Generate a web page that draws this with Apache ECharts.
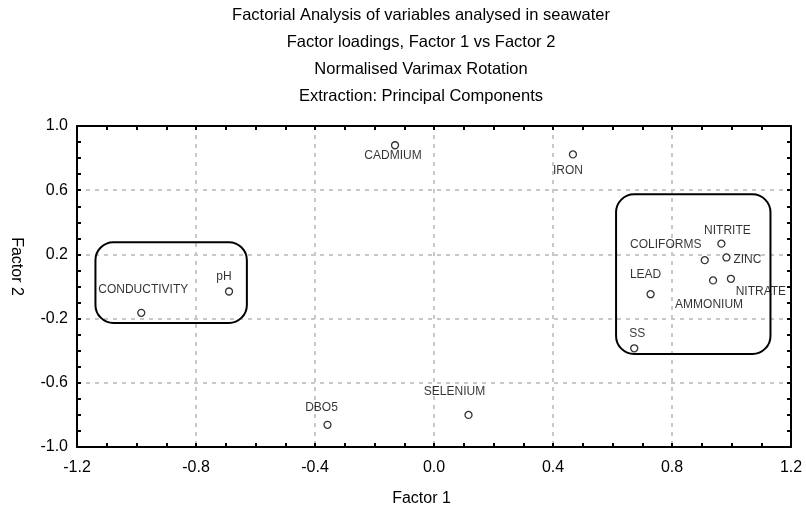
<!DOCTYPE html>
<html>
<head>
<meta charset="utf-8">
<script src="https://cdn.jsdelivr.net/npm/echarts@6/dist/echarts.min.js"></script>
<style>
  html, body { margin: 0; padding: 0; background: #fff; }
  #chart { width: 806px; height: 509px; }
</style>
</head>
<body>
<div id="chart"></div>
<script>
// factor loadings
const variables = ['CONDUCTIVITY', 'pH', 'CADMIUM', 'IRON', 'DBO5', 'SELENIUM', 'NITRITE', 'COLIFORMS', 'ZINC', 'LEAD', 'AMMONIUM', 'NITRATE', 'SS']
const factor1 = [-0.984, -0.689, -0.131, 0.467, -0.358, 0.116, 0.966, 0.910, 0.983, 0.728, 0.938, 0.998, 0.673]
const factor2 = [-0.164, -0.031, 0.880, 0.823, -0.862, -0.800, 0.267, 0.164, 0.181, -0.048, 0.038, 0.048, -0.385]

// grouping boxes: [x0, y0, x1, y1] in loading units
const groupBoxes = [
  [-1.138, -0.227, -0.629, 0.276],
  [0.612, -0.420, 1.131, 0.574],
]

// label offsets (px) around each point
const labelOffset = {
  CONDUCTIVITY: [2, -23], pH: [-5, -15], CADMIUM: [-2, 10], IRON: [-5, 16],
  DBO5: [-6, -17], SELENIUM: [-14, -23], NITRITE: [6, -13], COLIFORMS: [-39, -15],
  ZINC: [21, 2], LEAD: [-5, -20], AMMONIUM: [-4, 24], NITRATE: [30, 13], SS: [3, -15],
}

const FONT = '"Liberation Sans", Arial, sans-serif'
const fmt = v => (Math.abs(v) < 1e-9 ? '0.0' : v.toFixed(1))

const chart = echarts.init(document.getElementById('chart'))

const baseAxis = {
  type: 'value',
  interval: 0.4,
  axisLine: { show: true, onZero: false, lineStyle: { color: '#000', width: 2 } },
  axisTick: { show: true, inside: true, length: 4, lineStyle: { color: '#000', width: 2 } },
  minorTick: { show: true, splitNumber: 4, length: 4, lineStyle: { color: '#000', width: 2 } },
  splitLine: { show: false },
  axisLabel: { show: false },
}

const gridLine = { show: true, lineStyle: { color: '#c8c8c8', width: 2, type: [4, 5] } }

chart.setOption({
  animation: false,
  backgroundColor: '#fff',
  title: {
    text: 'Factorial Analysis of variables analysed in seawater\nFactor loadings, Factor 1 vs Factor 2\nNormalised Varimax Rotation\nExtraction: Principal Components',
    left: 421,
    top: 2,
    padding: 0,
    textAlign: 'center',
    textStyle: { fontFamily: FONT, fontSize: 16.5, fontWeight: 'normal', color: '#000', lineHeight: 27 },
  },
  grid: { left: 77, right: 15, top: 126, bottom: 62, containLabel: false, outerBoundsMode: 'none' },
  xAxis: [
    {
      ...baseAxis,
      min: -1.2,
      max: 1.2,
      position: 'bottom',
      name: 'Factor 1',
      nameLocation: 'middle',
      nameGap: 44,
      nameTextStyle: { fontFamily: FONT, fontSize: 16, color: '#000', padding: [0, 25, 0, 0] },
      axisLabel: { show: true, margin: 13, fontFamily: FONT, fontSize: 16, color: '#000', formatter: fmt },
      splitLine: gridLine,
    },
    { ...baseAxis, min: -1.2, max: 1.2, position: 'top' },
  ],
  yAxis: [
    {
      ...baseAxis,
      min: -1,
      max: 1,
      position: 'left',
      name: 'Factor 2',
      nameLocation: 'middle',
      nameRotate: -90,
      nameGap: 53,
      nameTextStyle: { fontFamily: FONT, fontSize: 16, color: '#000', padding: [0, 40, 0, 0] },
      axisLabel: { show: true, margin: 9, fontFamily: FONT, fontSize: 16, color: '#000', formatter: fmt },
      splitLine: gridLine,
    },
    { ...baseAxis, min: -1, max: 1, position: 'right' },
  ],
  series: [
    {
      type: 'custom',
      coordinateSystem: 'cartesian2d',
      silent: true,
      encode: { x: [0, 2], y: [1, 3] },
      data: groupBoxes,
      renderItem: (params, api) => {
        const p0 = api.coord([api.value(0), api.value(3)])
        const p1 = api.coord([api.value(2), api.value(1)])
        return {
          type: 'rect',
          shape: { x: p0[0], y: p0[1], width: p1[0] - p0[0], height: p1[1] - p0[1], r: 18 },
          style: { fill: 'none', stroke: '#000', lineWidth: 2 },
        }
      },
    },
    {
      type: 'scatter',
      symbol: 'circle',
      symbolSize: 7,
      itemStyle: { color: '#fff', borderColor: '#000', borderWidth: 1.3 },
      data: variables.map((n, i) => ({
        name: n,
        value: [factor1[i], factor2[i]],
        label: { offset: labelOffset[n] },
      })),
      label: {
        show: true,
        position: 'inside',
        formatter: p => p.name,
        fontFamily: FONT,
        fontSize: 12,
        color: '#000',
      },
      z: 5,
    },
  ],
})
</script>
</body>
</html>
